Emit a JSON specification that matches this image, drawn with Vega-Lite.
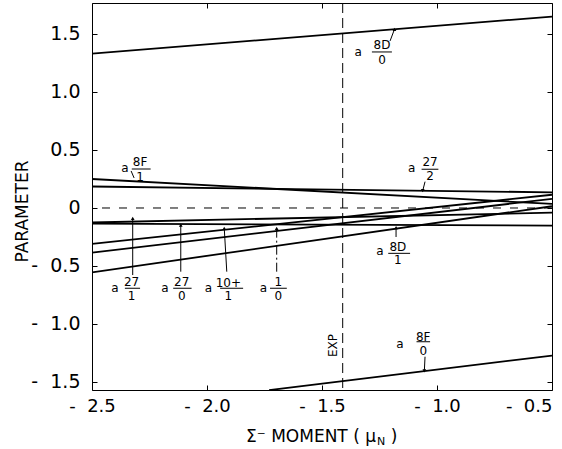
{
  "$schema": "https://vega.github.io/schema/vega-lite/v6.json",
  "width": 460,
  "height": 387,
  "autosize": {"type": "none"},
  "padding": {"left": 92, "top": 3, "right": 10, "bottom": 59},
  "background": "white",
  "config": {
    "view": {"stroke": "black", "strokeWidth": 1},
    "font": "DejaVu Sans",
    "axis": {"grid": false, "domain": false, "tickColor": "black", "labelColor": "black", "titleColor": "black", "titleFontWeight": "normal"}
  },
  "datasets": {
    "curves": [
      {"curve": "8D/0", "x": -2.5, "y": 1.33}, {"curve": "8D/0", "x": -0.5, "y": 1.65},
      {"curve": "8F/1", "x": -2.5, "y": 0.25}, {"curve": "8F/1", "x": -0.5, "y": 0.035},
      {"curve": "27/2", "x": -2.5, "y": 0.185}, {"curve": "27/2", "x": -0.5, "y": 0.135},
      {"curve": "8D/1", "x": -2.5, "y": -0.135}, {"curve": "8D/1", "x": -0.5, "y": -0.152},
      {"curve": "27/1", "x": -2.5, "y": -0.125}, {"curve": "27/1", "x": -0.5, "y": -0.04},
      {"curve": "27/0", "x": -2.5, "y": -0.31}, {"curve": "27/0", "x": -0.5, "y": 0.114},
      {"curve": "10+/1", "x": -2.5, "y": -0.385}, {"curve": "10+/1", "x": -0.5, "y": 0.079},
      {"curve": "1/0", "x": -2.5, "y": -0.555}, {"curve": "1/0", "x": -0.5, "y": 0.015},
      {"curve": "8F/0", "x": -1.73, "y": -1.57}, {"curve": "8F/0", "x": -0.5, "y": -1.272}
    ],
    "aLabels": [
      {"x": -1.343, "y": 1.345}, {"x": -2.357, "y": 0.342}, {"x": -1.11, "y": 0.342},
      {"x": -1.248, "y": -0.368}, {"x": -2.4, "y": -0.687}, {"x": -2.183, "y": -0.687},
      {"x": -1.994, "y": -0.687}, {"x": -1.755, "y": -0.687}, {"x": -1.161, "y": -1.172}
    ],
    "fracText": [
      {"x": -1.239, "y": 1.405, "t": "8D"}, {"x": -1.239, "y": 1.276, "t": "0"},
      {"x": -2.291, "y": 0.399, "t": "8F"}, {"x": -2.291, "y": 0.27, "t": "1"},
      {"x": -1.03, "y": 0.399, "t": "27"}, {"x": -1.03, "y": 0.276, "t": "2"},
      {"x": -1.17, "y": -0.339, "t": "8D"}, {"x": -1.17, "y": -0.448, "t": "1"},
      {"x": -2.328, "y": -0.635, "t": "27"}, {"x": -2.328, "y": -0.759, "t": "1"},
      {"x": -2.11, "y": -0.641, "t": "27"}, {"x": -2.11, "y": -0.756, "t": "0"},
      {"x": -1.907, "y": -0.649, "t": "10+"}, {"x": -1.907, "y": -0.759, "t": "1"},
      {"x": -1.69, "y": -0.641, "t": "1"}, {"x": -1.69, "y": -0.756, "t": "0"},
      {"x": -1.06, "y": -1.115, "t": "8F"}, {"x": -1.06, "y": -1.23, "t": "0"}
    ],
    "bars": [
      {"x": -1.283, "x2": -1.196, "y": 1.345},
      {"x": -2.327, "x2": -2.245, "y": 0.336},
      {"x": -1.067, "x2": -0.994, "y": 0.334},
      {"x": -1.212, "x2": -1.117, "y": -0.391},
      {"x": -2.357, "x2": -2.291, "y": -0.692},
      {"x": -2.147, "x2": -2.067, "y": -0.692},
      {"x": -1.943, "x2": -1.843, "y": -0.692},
      {"x": -1.726, "x2": -1.653, "y": -0.692},
      {"x": -1.089, "x2": -1.03, "y": -1.153}
    ],
    "arrows": [
      {"x": -1.204, "y": 1.44, "x2": -1.185, "y2": 1.54},
      {"x": -2.33, "y": 0.319, "x2": -2.317, "y2": 0.259},
      {"x": -1.052, "y": 0.227, "x2": -1.062, "y2": 0.149},
      {"x": -1.178, "y": -0.25, "x2": -1.178, "y2": -0.17},
      {"x": -2.323, "y": -0.578, "x2": -2.323, "y2": -0.089},
      {"x": -2.114, "y": -0.549, "x2": -2.114, "y2": -0.147},
      {"x": -1.914, "y": -0.549, "x2": -1.925, "y2": -0.175},
      {"x": -1.052, "y": -1.282, "x2": -1.055, "y2": -1.405}
    ],
    "dashArrow": [
      {"x": -1.697, "y": -0.549, "x2": -1.697, "y2": -0.175}
    ],
    "tipsUp": [
      {"x": -1.185, "y": 1.54}, {"x": -1.178, "y": -0.17}, {"x": -2.323, "y": -0.089},
      {"x": -2.114, "y": -0.147}, {"x": -1.925, "y": -0.175}, {"x": -1.697, "y": -0.175}
    ],
    "tipsDown": [
      {"x": -1.062, "y": 0.149}, {"x": -1.055, "y": -1.405}
    ],
    "xTitle": [
      {"x": -1.2652, "y": -1.974, "t": "Σ⁻ MOMENT ( μ"}
    ],
    "xTitleEnd": [
      {"x": -1.187, "y": -1.974, "t": ")"}
    ]
  },
  "layer": [
    {
      "data": {"name": "curves"},
      "mark": {"type": "line", "color": "black", "strokeWidth": 1.8, "clip": true},
      "encoding": {
        "x": {"field": "x", "type": "quantitative",
          "scale": {"domain": [-2.5, -0.5], "nice": false, "zero": false},
          "axis": {"orient": "bottom", "values": [-2.5, -2, -1.5, -1, -0.5], "tickSize": -5,
            "labelExpr": "datum.value == 0 ? '0' : (datum.value < 0 ? '-\u00a0\u00a0' : '') + format(abs(datum.value), '.1f')",
            "labelFontSize": 18, "labelPadding": 12, "labelFlush": false,
            "labelAlign": {"condition": {"test": "datum.value > -0.6", "value": "right"}, "value": "center"},
            "title": null}},
        "y": {"field": "y", "type": "quantitative",
          "scale": {"domain": [-1.569, 1.767], "nice": false, "zero": false},
          "axis": {"orient": "left", "values": [-1.5, -1, -0.5, 0, 0.5, 1, 1.5], "tickSize": -5,
            "labelExpr": "datum.value == 0 ? '0' : (datum.value < 0 ? '-\u00a0\u00a0' : '') + format(abs(datum.value), '.1f')",
            "labelFontSize": 19, "labelPadding": 17, "labelFlush": false,
            "title": "PARAMETER", "titleFontSize": 17, "titleX": -70, "titleY": 208, "titleBaseline": "middle"}},
        "detail": {"field": "curve"}
      }
    },
    {
      "data": {"values": [{"y": 0}]},
      "mark": {"type": "rule", "color": "black", "strokeWidth": 1, "strokeDash": [8, 9]},
      "encoding": {
        "y": {"field": "y", "type": "quantitative",
          "axis": {"orient": "right", "values": [-1.5, -1, -0.5, 0, 0.5, 1, 1.5], "tickSize": -5, "labels": false, "title": null}}
      }
    },
    {
      "data": {"values": [{"x": -1.41}]},
      "mark": {"type": "rule", "color": "black", "strokeWidth": 1, "strokeDash": [10, 5]},
      "encoding": {
        "x": {"field": "x", "type": "quantitative",
          "axis": {"orient": "top", "values": [-2.5, -2, -1.5, -1, -0.5], "tickSize": -5, "labels": false, "title": null}}
      }
    },
    {
      "data": {"name": "bars"},
      "mark": {"type": "rule", "color": "black", "strokeWidth": 1},
      "encoding": {
        "x": {"field": "x", "type": "quantitative", "axis": null},
        "x2": {"field": "x2"},
        "y": {"field": "y", "type": "quantitative", "axis": null}
      }
    },
    {
      "data": {"name": "arrows"},
      "mark": {"type": "rule", "color": "black", "strokeWidth": 1},
      "encoding": {
        "x": {"field": "x", "type": "quantitative", "axis": null},
        "x2": {"field": "x2"},
        "y": {"field": "y", "type": "quantitative", "axis": null},
        "y2": {"field": "y2"}
      }
    },
    {
      "data": {"name": "dashArrow"},
      "mark": {"type": "rule", "color": "black", "strokeWidth": 1, "strokeDash": [9, 3, 2, 3]},
      "encoding": {
        "x": {"field": "x", "type": "quantitative", "axis": null},
        "x2": {"field": "x2"},
        "y": {"field": "y", "type": "quantitative", "axis": null},
        "y2": {"field": "y2"}
      }
    },
    {
      "data": {"name": "tipsUp"},
      "mark": {"type": "point", "shape": "triangle-up", "filled": true, "color": "black", "size": 14, "opacity": 1},
      "encoding": {
        "x": {"field": "x", "type": "quantitative", "axis": null},
        "y": {"field": "y", "type": "quantitative", "axis": null}
      }
    },
    {
      "data": {"name": "tipsDown"},
      "mark": {"type": "point", "shape": "triangle-down", "filled": true, "color": "black", "size": 14, "opacity": 1},
      "encoding": {
        "x": {"field": "x", "type": "quantitative", "axis": null},
        "y": {"field": "y", "type": "quantitative", "axis": null}
      }
    },
    {
      "data": {"name": "aLabels"},
      "mark": {"type": "text", "text": "a", "fontSize": 12, "color": "black", "baseline": "middle", "align": "center"},
      "encoding": {
        "x": {"field": "x", "type": "quantitative", "axis": null},
        "y": {"field": "y", "type": "quantitative", "axis": null}
      }
    },
    {
      "data": {"name": "fracText"},
      "mark": {"type": "text", "fontSize": 12, "color": "black", "baseline": "middle", "align": "center"},
      "encoding": {
        "x": {"field": "x", "type": "quantitative", "axis": null},
        "y": {"field": "y", "type": "quantitative", "axis": null},
        "text": {"field": "t"}
      }
    },
    {
      "data": {"values": [{"x": -1.452, "y": -1.185, "t": "EXP"}]},
      "mark": {"type": "text", "fontSize": 12, "angle": 270, "color": "black", "baseline": "middle", "align": "center"},
      "encoding": {
        "x": {"field": "x", "type": "quantitative", "axis": null},
        "y": {"field": "y", "type": "quantitative", "axis": null},
        "text": {"field": "t"}
      }
    },
    {
      "data": {"name": "xTitle"},
      "mark": {"type": "text", "fontSize": 17, "color": "black", "baseline": "middle", "align": "right"},
      "encoding": {
        "x": {"field": "x", "type": "quantitative", "axis": null},
        "y": {"field": "y", "type": "quantitative", "axis": null},
        "text": {"field": "t"}
      }
    },
    {
      "data": {"name": "xTitleEnd"},
      "mark": {"type": "text", "fontSize": 17, "color": "black", "baseline": "middle", "align": "center"},
      "encoding": {
        "x": {"field": "x", "type": "quantitative", "axis": null},
        "y": {"field": "y", "type": "quantitative", "axis": null},
        "text": {"field": "t"}
      }
    },
    {
      "data": {"values": [{"x": -1.2435, "y": -2.017, "t": "N"}]},
      "mark": {"type": "text", "fontSize": 11, "color": "black", "baseline": "middle", "align": "center"},
      "encoding": {
        "x": {"field": "x", "type": "quantitative", "axis": null},
        "y": {"field": "y", "type": "quantitative", "axis": null},
        "text": {"field": "t"}
      }
    }
  ],
  "resolve": {"axis": {"x": "independent", "y": "independent"}}
}
